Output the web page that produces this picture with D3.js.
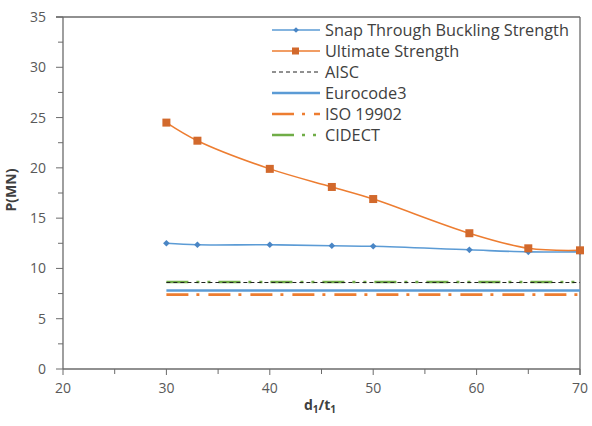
<!DOCTYPE html>
<html><head><meta charset="utf-8">
<script src="https://cdn.jsdelivr.net/npm/d3@7"></script>
<style>body{margin:0;background:#fff}svg{display:block}text{font-family:"Open Sans",sans-serif}</style>
</head><body>
<svg id="c" width="592" height="426"></svg>
<script>
// ---- data ----
const ratioUlt = [30, 33, 40, 46, 50, 59.3, 65, 70];
const ultimate = [24.5, 22.7, 19.9, 18.1, 16.9, 13.5, 12.0, 11.8];
const ratioSnap = [30, 33, 40, 46, 50, 59.3, 65, 70];
const snap = [12.5, 12.35, 12.35, 12.25, 12.2, 11.85, 11.65, 11.65];
const codeRange = [30, 70];
const aisc = 8.6;
const eurocode3 = 7.8;
const iso19902 = 7.4;
const cidect = 8.65;
const xTicks = [20, 30, 40, 50, 60, 70];
const yTicks = [0, 5, 10, 15, 20, 25, 30, 35];
const legendLabels = ["Snap Through Buckling Strength", "Ultimate Strength", "AISC", "Eurocode3", "ISO 19902", "CIDECT"];

const svg = d3.select("#c");
const L = 63, R = 580, T = 17, B = 369;
const x = d3.scaleLinear().domain([20, 70]).range([L, R]);
const y = d3.scaleLinear().domain([0, 35]).range([B, T]);
const axisCol = "#6b6b6b", textCol = "#595959";

// frame top/right
svg.append("line").attr("x1", L - 7).attr("x2", R).attr("y1", T).attr("y2", T).attr("stroke", axisCol).attr("stroke-width", 1.3);
svg.append("line").attr("x1", R).attr("x2", R).attr("y1", T).attr("y2", B + 6).attr("stroke", axisCol).attr("stroke-width", 1.3);

// axes
const xMinor = d3.range(25, 70, 10);
const gx = svg.append("g").attr("transform", `translate(0,${B})`);
gx.append("line").attr("x1", L).attr("x2", R).attr("stroke", axisCol).attr("stroke-width", 1.3);
gx.selectAll(".mj").data(xTicks).join("line").attr("x1", d => x(d)).attr("x2", d => x(d)).attr("y1", 0).attr("y2", 6).attr("stroke", axisCol);
gx.selectAll(".mn").data(xMinor).join("line").attr("x1", d => x(d)).attr("x2", d => x(d)).attr("y1", 0).attr("y2", 5).attr("stroke", axisCol);
gx.selectAll("text").data(xTicks).join("text").attr("x", d => x(d)).attr("y", 24).attr("text-anchor", "middle")
  .attr("font-size", 14).attr("fill", textCol).text(d => d);

const yMinor = d3.range(2.5, 35, 5);
const gy = svg.append("g").attr("transform", `translate(${L},0)`);
gy.append("line").attr("y1", T).attr("y2", B).attr("stroke", axisCol).attr("stroke-width", 1.3);
gy.selectAll(".mj").data(yTicks).join("line").attr("y1", d => y(d)).attr("y2", d => y(d)).attr("x1", -7).attr("x2", 0).attr("stroke", axisCol);
gy.selectAll(".mn").data(yMinor).join("line").attr("y1", d => y(d)).attr("y2", d => y(d)).attr("x1", -5).attr("x2", 0).attr("stroke", axisCol);
gy.selectAll("text").data(yTicks).join("text").attr("x", -17).attr("y", d => y(d) + 5).attr("text-anchor", "end")
  .attr("font-size", 14).attr("fill", textCol).text(d => d);

// axis titles
const xt = svg.append("text").attr("x", 320).attr("y", 410).attr("text-anchor", "middle").attr("font-size", 14)
  .attr("font-weight", "bold").attr("fill", "#404040");
xt.append("tspan").text("d");
xt.append("tspan").attr("font-size", 10).attr("dy", 3).text("1");
xt.append("tspan").attr("dy", -3).text("/t");
xt.append("tspan").attr("font-size", 10).attr("dy", 3).text("1");
svg.append("text").attr("transform", "translate(16,190) rotate(-90)").attr("text-anchor", "middle").attr("font-size", 14)
  .attr("font-weight", "bold").attr("fill", "#404040").text("P(MN)");

// styles
const styles = [
  {stroke: "#5b9bd5", w: 1.6, dash: null, marker: "diamond", mcol: "#4a86c5"},
  {stroke: "#ed7d31", w: 1.5, dash: null, marker: "square", mcol: "#d2692c"},
  {stroke: "#222", w: 1, dash: "4,3"},
  {stroke: "#5b9bd5", w: 2.6, dash: null},
  {stroke: "#ed7d31", w: 2.6, dash: "22,8,3,9"},
  {stroke: "#70ad47", w: 2.6, dash: "22,8,3,8,3,8"}
];

// horizontal code lines
const codeStyles = [styles[2], styles[3], styles[4], styles[5]];
const hline = d3.line().x(d => x(d[0])).y(d => y(d[1]));
[[3, cidect], [0, aisc], [1, eurocode3], [2, iso19902]].forEach(([i, v]) => {
  const s = codeStyles[i];
  svg.append("path").attr("d", hline(codeRange.map(r => [r, v]))).attr("fill", "none")
    .attr("stroke", s.stroke).attr("stroke-width", s.w).attr("stroke-dasharray", s.dash);
});

// series
const curve = d3.line().x(d => x(d[0])).y(d => y(d[1])).curve(d3.curveCatmullRom.alpha(0.5));
const snapData = ratioSnap.map((r, i) => [r, snap[i]]);
const ultData = ratioUlt.map((r, i) => [r, ultimate[i]]);
svg.append("path").attr("d", curve(snapData)).attr("fill", "none").attr("stroke", styles[0].stroke).attr("stroke-width", styles[0].w);
svg.append("path").attr("d", curve(ultData)).attr("fill", "none").attr("stroke", styles[1].stroke).attr("stroke-width", styles[1].w);
const diamond = d3.symbol().type(d3.symbolSquare).size(22);
svg.selectAll(".snapM").data(snapData).join("path").attr("d", diamond)
  .attr("transform", d => `translate(${x(d[0])},${y(d[1])}) rotate(45)`).attr("fill", styles[0].mcol);
svg.selectAll(".ultM").data(ultData).join("rect").attr("x", d => x(d[0]) - 4).attr("y", d => y(d[1]) - 4)
  .attr("width", 8).attr("height", 8).attr("fill", styles[1].mcol);

// legend
const lg = svg.append("g");
legendLabels.forEach((lab, i) => {
  const yy = 30 + i * 21;
  const s = styles[i];
  lg.append("line").attr("x1", 272).attr("x2", 320).attr("y1", yy).attr("y2", yy)
    .attr("stroke", s.stroke).attr("stroke-width", s.w === 2.6 ? 2.4 : s.w).attr("stroke-dasharray", s.dash);
  if (s.marker === "diamond") lg.append("path").attr("d", d3.symbol().type(d3.symbolSquare).size(16)).attr("transform", `translate(296,${yy}) rotate(45)`).attr("fill", s.mcol);
  if (s.marker === "square") lg.append("rect").attr("x", 292).attr("y", yy - 3.5).attr("width", 7).attr("height", 7).attr("fill", s.mcol);
  lg.append("text").attr("x", 325).attr("y", yy + 6).attr("font-size", 16.3).attr("fill", "#404040").text(lab);
});
</script>
</body></html>
